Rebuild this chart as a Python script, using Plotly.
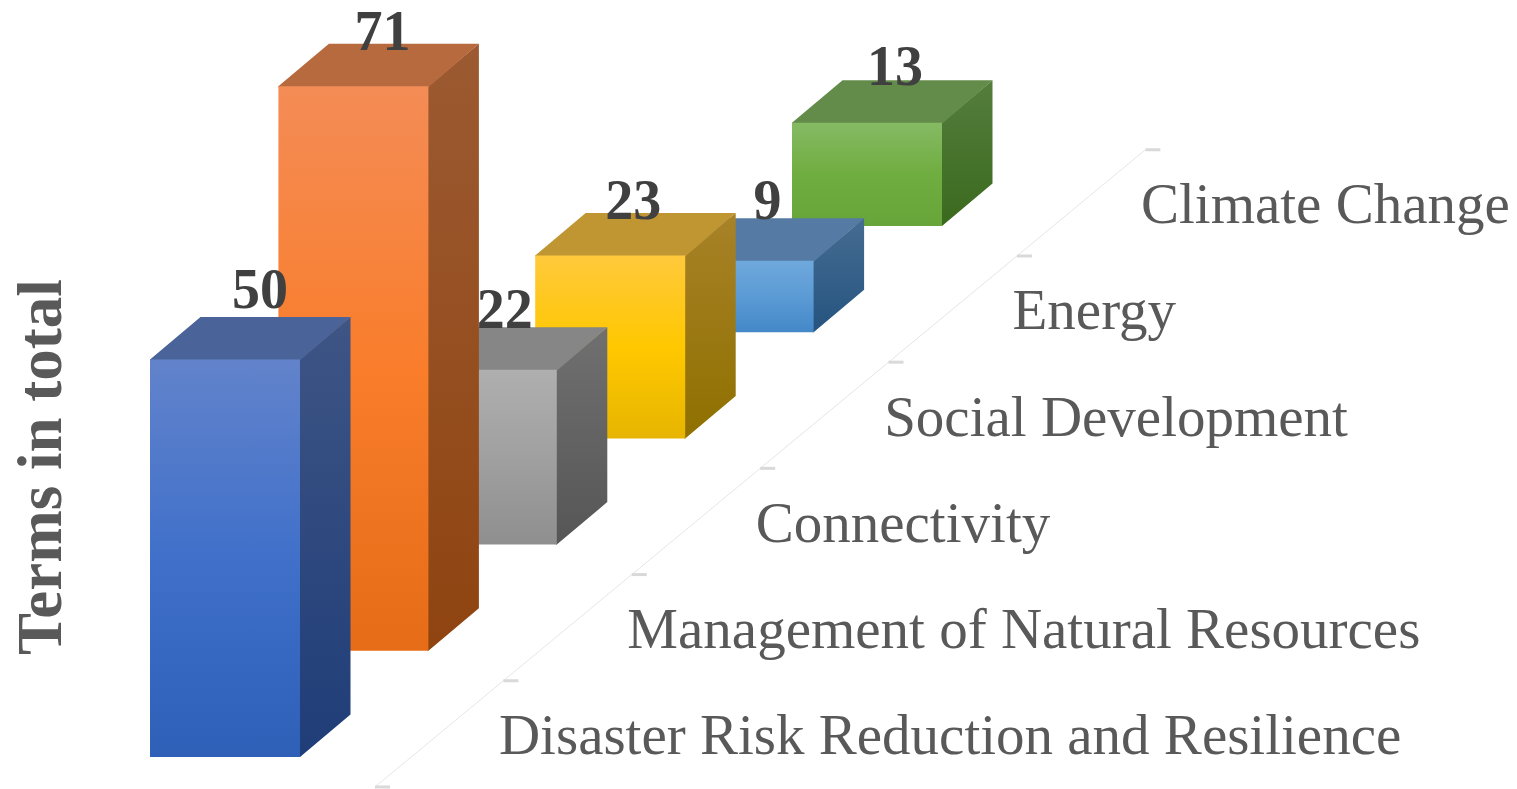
import plotly.graph_objects as go

categories = ["Disaster Risk Reduction and Resilience", "Management of Natural Resources",
              "Connectivity", "Social Development", "Energy", "Climate Change"]
terms = [50, 71, 22, 23, 9, 13]

# bottom, middle, top of each gradient
front_colors = [["#2E60B8", "#4070CA", "#6283CB"],
                ["#E66C17", "#F97D2B", "#F48C56"],
                ["#8F8F8F", "#A0A0A0", "#AFAFAF"],
                ["#E7B500", "#FFC800", "#FFC93C"],
                ["#4488C8", "#5B9BD5", "#6FA8DC"],
                ["#67A53A", "#70AD40", "#85BA64"]]
side_colors = [["#1F3D78", "#3E5585"], ["#8F4410", "#9C5A32"], ["#565656", "#707070"],
               ["#8F7000", "#A88228"], ["#25547F", "#466C92"], ["#3A6A1E", "#557D3D"]]
top_colors = ["#4A6399", "#B76A3E", "#868686", "#BF9632", "#557BA5", "#638C4A"]

# the page has an 8px body margin, so the figure is that much smaller than the window
WIDTH, HEIGHT = 1509, 781
PX_X, PX_Y = 128.4, 7.95
X0_PX, Y0_PX = 142, 749
BAR_W = 150 / PX_X
DEPTH_X, DEPTH_Y = 50.5 / PX_X, 42.5 / PX_Y
STEP_Y = 106.2 / PX_Y  # how far up the floor rises per category
AXIS_X, AXIS_Y = 1.752, -3.77
# faces run 1px under the next one, otherwise the bar behind shows through the seam
LAP_X, LAP_Y = 1 / PX_X, 1 / PX_Y

# small per-label offsets from the front-left top corner, in pixels
label_dx = [110, 104, 98, 98, 104, 103]
label_dy = [66, 50, 56, 51, 56, 52]


def face(xs, ys, color):
    if isinstance(color, str):
        return go.Scatter(x=xs, y=ys, mode="lines", fill="toself", fillcolor=color,
                          line=dict(width=0), hoverinfo="skip")
    stops = [i / (len(color) - 1) for i in range(len(color))]
    return go.Scatter(x=xs, y=ys, mode="lines", fill="toself", line=dict(width=0), hoverinfo="skip",
                      fillgradient=dict(type="vertical", colorscale=list(zip(stops, color)),
                                        start=min(ys), stop=max(ys)))


fig = go.Figure()

# floor axis line with its small tick dashes
line_x = [AXIS_X, AXIS_X + len(categories)]
line_y = [AXIS_Y, AXIS_Y + STEP_Y * len(categories)]
fig.add_trace(go.Scatter(x=line_x, y=line_y, mode="lines", line=dict(color="#E6E6E6", width=1),
                         hoverinfo="skip"))
tick_x, tick_y = [], []
for i in range(len(categories) + 1):
    tick_x += [AXIS_X + i, AXIS_X + i + 15 / PX_X, None]
    tick_y += [AXIS_Y + STEP_Y * i, AXIS_Y + STEP_Y * i, None]
fig.add_trace(go.Scatter(x=tick_x, y=tick_y, mode="lines", line=dict(color="#D9D9D9", width=3),
                         hoverinfo="skip", cliponaxis=False))

# back to front so the nearer bars cover the ones behind
for i in reversed(range(len(terms))):
    x0, x1 = i, i + BAR_W
    y0 = STEP_Y * i
    y1 = y0 + terms[i]
    fig.add_trace(face([x1 - LAP_X, x1, x1 + DEPTH_X, x1 + DEPTH_X, x1, x1 - LAP_X, x1 - LAP_X],
                       [y0, y0, y0 + DEPTH_Y, y1 + DEPTH_Y, y1, y1, y0], side_colors[i]))
    fig.add_trace(face([x0, x1, x1 + DEPTH_X, x0 + DEPTH_X, x0, x0],
                       [y1 - LAP_Y, y1 - LAP_Y, y1 + DEPTH_Y, y1 + DEPTH_Y, y1, y1 - LAP_Y],
                       top_colors[i]))
    fig.add_trace(face([x0, x1, x1, x0, x0], [y0, y0, y1, y1, y0], front_colors[i]))

fig.add_trace(go.Scatter(
    x=[i + label_dx[i] / PX_X for i in range(len(terms))],
    y=[STEP_Y * i + terms[i] + label_dy[i] / PX_Y for i in range(len(terms))],
    text=[str(v) for v in terms],
    mode="text", textposition="middle center", hoverinfo="skip", cliponaxis=False,
    textfont=dict(family="Liberation Serif", size=56, color="#404040", weight="bold"),
))

fig.add_trace(go.Scatter(
    x=[AXIS_X + i + 124 / PX_X for i in range(len(categories))],
    y=[AXIS_Y + STEP_Y * i + 47 / PX_Y for i in range(len(categories))],
    text=categories,
    mode="text", textposition="middle right", hoverinfo="skip", cliponaxis=False,
    textfont=dict(family="Liberation Serif", size=57, color="#595959"),
))

fig.add_annotation(text="<b>Terms in total</b>", xref="paper", yref="paper", x=32 / WIDTH, y=1 - 459 / HEIGHT,
                   textangle=-90, showarrow=False, xanchor="center", yanchor="middle", height=60,
                   font=dict(family="Liberation Serif", size=63, color="#595959"))

fig.update_layout(
    width=WIDTH, height=HEIGHT, showlegend=False,
    margin=dict(l=0, r=0, t=0, b=0), paper_bgcolor="white", plot_bgcolor="white",
    xaxis=dict(visible=False, range=[-X0_PX / PX_X, (WIDTH - X0_PX) / PX_X]),
    yaxis=dict(visible=False, range=[-(HEIGHT - Y0_PX) / PX_Y, Y0_PX / PX_Y]),
)

fig.write_html("out.html")
